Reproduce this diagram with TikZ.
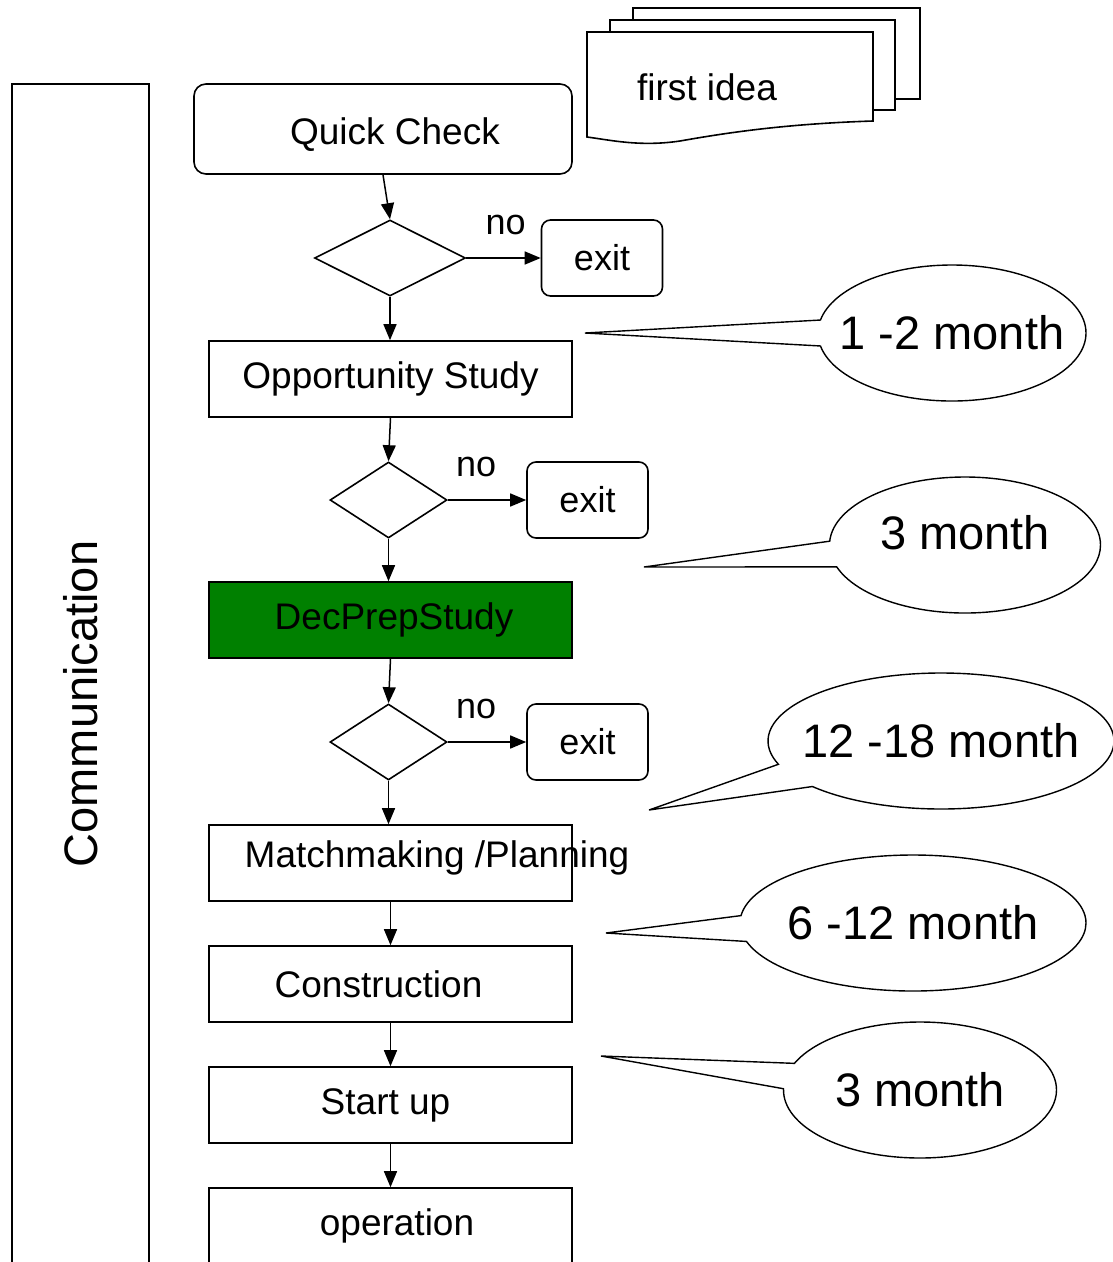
\documentclass[tikz,border=0pt]{standalone}
\usepackage{fontspec}
\setmainfont{Liberation Sans}
\usetikzlibrary{arrows.meta,shapes.geometric,shapes.callouts}
\definecolor{stepgreen}{RGB}{0,128,0}
\newcommand{\spanlabel}[1]{\makebox[160pt]{#1}}
\tikzset{
  phase/.style={draw, line width=1.6pt, minimum width=363pt, minimum height=76pt,
    inner sep=0pt, font=\fontsize{37}{44}\selectfont},
  check/.style={draw, diamond, line width=1.6pt, minimum height=76pt, inner sep=0pt},
  exitbox/.style={draw, rounded corners=9pt, line width=1.6pt, minimum width=121pt,
    minimum height=76pt, font=\fontsize{36}{42}\selectfont},
  duration/.style={draw, ellipse callout, line width=1.4pt, minimum height=136pt,
    inner sep=0pt, callout pointer arc=22, font=\fontsize{47}{56}\selectfont},
  flow/.style={->, line width=1.5pt},
  nolabel/.style={above=19pt, font=\fontsize{36}{42}\selectfont},
}
\begin{document}
\begin{tikzpicture}[x=1pt,y=-1pt,>={Triangle[length=16pt,width=13pt]}]
    \useasboundingbox (0,0) rectangle (1113,1262);
    \clip (0,0) rectangle (1113,1262);
    % side bar
    \node[draw, line width=1.6pt, rotate=90, minimum width=1240pt, minimum height=137pt,
        font=\fontsize{47}{56}\selectfont] (comm) at (80.5,704) {Communication};
    % stacked documents
    \draw[line width=1.6pt] (633,20) -- (633,8) -- (920,8) -- (920,99) -- (895,99);
    \draw[line width=1.6pt] (610,32) -- (610,20) -- (895,20) -- (895,110) -- (873,110);
    \draw[line width=1.6pt, fill=white] (587,32) -- (873,32) -- (873,121)
        .. controls (780,124) and (720,134) .. (680,141)
        .. controls (640,147) and (610,140) .. (587,137) -- cycle;
    \node[font=\fontsize{37}{44}\selectfont] (idea) at (707,87) {first idea};
    % main flow
    \node[phase, rounded corners=12pt, minimum width=378pt, minimum height=90pt] (qc) at (383,129)
        {\hspace*{24pt}\raisebox{-6pt}[\height][\depth]{Quick Check}};
    \node[check, minimum width=151pt] (d1) at (390,258) {};
    \node[exitbox] (x1) at (602,258) {exit};
    \node[phase] (os) at (390.5,379) {Opportunity Study};
    \node[check, minimum width=117pt] (d2) at (388.5,500) {};
    \node[exitbox] (x2) at (587.5,500) {exit};
    \node[phase, fill=stepgreen] (dps) at (390.5,620) {\hspace*{7pt}DecPrepStudy};
    \node[check, minimum width=117pt] (d3) at (388.5,742) {};
    \node[exitbox] (x3) at (587.5,742) {exit};
    \node[phase] (mp) at (390.5,863) {};
    \node[font=\fontsize{37}{44}\selectfont] (mptext) at (437,858) {Matchmaking /Planning};
    \node[phase] (con) at (390.5,984) {Construction\hspace*{24pt}};
    \node[phase] (su) at (390.5,1105) {Start up\hspace*{10pt}};
    \node[phase] (op) at (390.5,1226) {\hspace*{13pt}operation};
    \draw[flow] (qc.south) -- (d1.north);
    \draw[flow] (d1.east) -- (x1.west) node[pos=0.53, nolabel] {no};
    \draw[flow] (d1.south) -- (d1.south |- os.north);
    \draw[flow] (os.south) -- (d2.north);
    \draw[flow] (d2.east) -- (x2.west) node[pos=0.36, nolabel] {no};
    \draw[flow] (d2.south) -- (d2.south |- dps.north);
    \draw[flow] (dps.south) -- (d3.north);
    \draw[flow] (d3.east) -- (x3.west) node[pos=0.36, nolabel] {no};
    \draw[flow] (d3.south) -- (d3.south |- mp.north);
    \draw[flow] (mp.south) -- (con.north);
    \draw[flow] (con.south) -- (su.north);
    \draw[flow] (su.south) -- (op.north);
    % durations
    \coordinate (p1) at (585,333);
    \coordinate (p2) at (644,567);
    \coordinate (p3) at (649,810);
    \coordinate (p4) at (606,933);
    \coordinate (p5) at (601,1056);
    \node[duration, minimum width=268pt, callout absolute pointer={(p1)}] (c1) at (952,333)
        {\spanlabel{1 -2 month}};
    \node[duration, minimum width=271pt, callout absolute pointer={(p2)}] (c2) at (965,545)
        {\spanlabel{\raisebox{12pt}[\height][\depth]{3 month}}};
    \node[duration, minimum width=346pt, callout absolute pointer={(p3)}] (c3) at (941,741)
        {\spanlabel{12 -18 month}};
    \node[duration, minimum width=346pt, callout absolute pointer={(p4)}] (c4) at (913,923)
        {\spanlabel{6 -12 month}};
    \node[duration, minimum width=273pt, callout absolute pointer={(p5)}] (c5) at (920,1090)
        {\spanlabel{3 month}};
\end{tikzpicture}
\end{document}
